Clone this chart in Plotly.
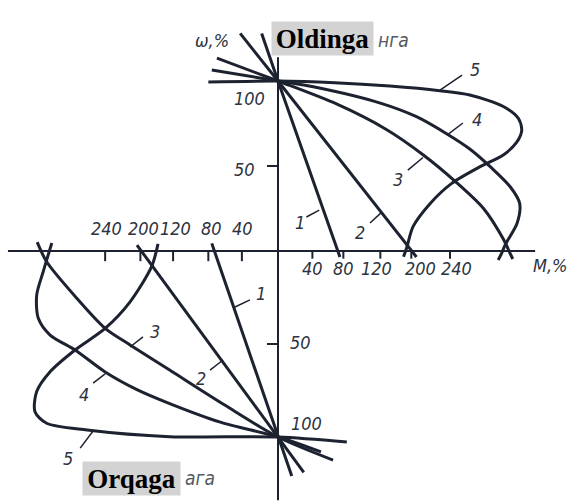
import plotly.graph_objects as go

# Mechanical characteristics: torque M, % against speed omega, %
# Forward run (upper quadrant)
fwd_1_M = [-19, 0, 72]
fwd_1_w = [128, 100, -3.5]
fwd_2_M = [-44, 0, 161]
fwd_2_w = [128, 100, -3.5]
fwd_3_M = [-71, 0, 68, 126, 169, 206, 239, 262, 270, 273]
fwd_3_w = [113.5, 100, 86.5, 71.5, 56.5, 41, 25, 7, -1.5, -4.7]
fwd_4_M = [-77, 0, 41, 119, 161, 196, 223, 248, 270, 281, 278, 264, 260, 256]
fwd_4_w = [106.5, 100, 96.6, 87, 79, 69, 60, 49, 37.8, 28, 16.3, 3.5, -1.4, -5.3]
fwd_5_M = [-81, 0, 66, 130, 188, 223, 262, 279.5, 283.4, 277.6, 262, 235, 202, 177, 157, 150, 146]
fwd_5_w = [99.4, 100, 99, 97, 94.3, 91.8, 85, 78, 71, 64, 56.5, 49.6, 39.8, 28, 14.3, 2.5, -3.4]

# Reverse run (lower quadrant)
rev_1_M = [-77, 0, 16]
rev_1_w = [4.1, -100, -121]
rev_2_M = [-164, 0, 30]
rev_2_w = [3.2, -100, -119]
rev_3_M = [-280, -269, -234, -201, -172, -126, -62, 0, 64]
rev_3_w = [4.8, -5.8, -25.4, -41.6, -50.5, -64, -82.8, -100, -112.4]
rev_4_M = [-263, -269, -273, -280.6, -278.7, -265, -236, -201, -164, -126, -67, 0, 50]
rev_4_w = [4.3, -4.8, -11.1, -23.7, -36.2, -45.2, -53.2, -65, -74.5, -82, -92, -100, -108]
rev_5_M = [-139.5, -147, -172, -201, -236, -265, -280.6, -282.6, -269, -222, -126, 0, 80]
rev_5_w = [3.8, -8.4, -27.3, -41.6, -53.2, -64.9, -75.6, -86.4, -92.6, -96.2, -99.8, -100, -102.7]

curve_names = ["1", "2", "3", "4", "5"]
tick_text = ["40", "80", "120", "200", "240"]

INK = "#1d2230"
TXT = "#2e3240"
NUM_FONT = dict(family="DejaVu Sans Condensed", size=18, color=TXT)

fig = go.Figure()

forward = [(fwd_1_M, fwd_1_w, "linear"), (fwd_2_M, fwd_2_w, "linear"),
           (fwd_3_M, fwd_3_w, "spline"), (fwd_4_M, fwd_4_w, "spline"),
           (fwd_5_M, fwd_5_w, "spline")]
reverse = [(rev_1_M, rev_1_w, "linear"), (rev_2_M, rev_2_w, "linear"),
           (rev_3_M, rev_3_w, "spline"), (rev_4_M, rev_4_w, "spline"),
           (rev_5_M, rev_5_w, "spline")]

for (m, w, shape), name in zip(forward, curve_names):
    fig.add_trace(go.Scatter(x=m, y=w, mode="lines", name=name, yaxis="y",
                             line=dict(color=INK, width=3, shape=shape, smoothing=0.8)))
for (m, w, shape), name in zip(reverse, curve_names):
    fig.add_trace(go.Scatter(x=m, y=w, mode="lines", name=name, yaxis="y2",
                             line=dict(color=INK, width=3, shape=shape, smoothing=0.8)))

shapes = []
# coordinate axes
shapes.append(dict(type="line", xref="x", yref="y", x0=-314, x1=299, y0=0, y1=0,
                   line=dict(color=INK, width=2)))
shapes.append(dict(type="line", xref="x", yref="y", x0=0, x1=0, y0=0, y1=114,
                   line=dict(color=INK, width=2)))
shapes.append(dict(type="line", xref="x", yref="y2", x0=0, x1=0, y0=0, y1=-134,
                   line=dict(color=INK, width=2)))
# torque ticks
for m in [40, 76, 119, 155, 200]:
    shapes.append(dict(type="line", xref="x", yref="y", x0=m, x1=m, y0=0, y1=-4.5,
                       line=dict(color=INK, width=2)))
for m in [-42, -81, -122, -160, -201]:
    shapes.append(dict(type="line", xref="x", yref="y", x0=m, x1=m, y0=0, y1=-6,
                       line=dict(color=INK, width=2)))
# speed ticks
shapes.append(dict(type="line", xref="x", yref="y", x0=-12.8, x1=0, y0=50, y1=50,
                   line=dict(color=INK, width=2)))
shapes.append(dict(type="line", xref="x", yref="y2", x0=-12.8, x1=0, y0=-50, y1=-50,
                   line=dict(color=INK, width=2)))

# leader lines for curve numbers
top_leaders = [((33, 20), (48, 24)), ((107, 16.5), (121, 23)), ((151, 47.6), (168.6, 55)),
               ((215, 75.3), (196.5, 68.2)), ((214, 103.5), (188.4, 94.7))]
bot_leaders = [((-32.6, -26.3), (-50, -30.1)), ((-79, -64), (-64, -58.6)),
               ((-157, -46.2), (-172, -51.6)), ((-215, -71), (-201, -66.1)),
               ((-230, -106), (-215, -96.8))]
for (a, b) in top_leaders:
    shapes.append(dict(type="line", xref="x", yref="y", x0=a[0], y0=a[1], x1=b[0], y1=b[1],
                       line=dict(color=INK, width=1.5)))
for (a, b) in bot_leaders:
    shapes.append(dict(type="line", xref="x", yref="y2", x0=a[0], y0=a[1], x1=b[0], y1=b[1],
                       line=dict(color=INK, width=1.5)))

ann = []


def label(x, y, text, yref="y", font=NUM_FONT):
    ann.append(dict(x=x, y=y, xref="x", yref=yref, text="<i>" + text + "</i>",
                    showarrow=False, font=font, xanchor="center", yanchor="middle"))


# torque tick labels
for m, t in zip([40, 76, 115, 166, 208], tick_text):
    label(m, -10, t)
for m, t in zip([-41, -77, -119, -156, -200], tick_text):
    label(m, 13.5, t)
# speed tick labels
label(-38.4, 48, "50")
label(-33.7, 90, "100")
label(25.6, -49, "50", "y2")
label(32.6, -93, "100", "y2")
# axis titles
label(-76.7, 124, "ω,%")
label(317, -8.8, "M,%")
# curve numbers
for (x, y), t in zip([(25, 17), (95, 11), (140, 42), (231, 77.6), (229, 106.5)], curve_names):
    label(x, y, t)
for (x, y), t in zip([(-20, -22.6), (-89.5, -68.8), (-143, -43.5), (-226, -77.4), (-244, -111.8)],
                     curve_names):
    label(x, y, t, "y2")

# direction captions
ann.append(dict(x=0.5513, y=0.9235, xref="paper", yref="paper", text="<b>Oldinga</b>",
                showarrow=False, width=101, height=33, borderpad=0, bgcolor="#d3d3d3",
                font=dict(family="Liberation Serif", size=27, color="black"),
                xanchor="center", yanchor="middle"))
ann.append(dict(x=0.6718, y=0.9205, xref="paper", yref="paper", text="<i>нга</i>",
                showarrow=False, font=dict(family="DejaVu Sans Condensed", size=19, color="#55595f"),
                xanchor="center", yanchor="middle"))
ann.append(dict(x=0.2248, y=0.0487, xref="paper", yref="paper", text="<b>Orqaga</b>",
                showarrow=False, width=97, height=33, borderpad=0, bgcolor="#d3d3d3",
                font=dict(family="Liberation Serif", size=27, color="black"),
                xanchor="center", yanchor="middle"))
ann.append(dict(x=0.3419, y=0.0497, xref="paper", yref="paper", text="<i>ага</i>",
                showarrow=False, font=dict(family="DejaVu Sans Condensed", size=19, color="#55595f"),
                xanchor="center", yanchor="middle"))

fig.update_layout(
    width=585, height=503,
    margin=dict(l=0, r=0, t=0, b=0),
    paper_bgcolor="white", plot_bgcolor="white",
    showlegend=False,
    xaxis=dict(range=[-323.26, 356.98], visible=False, fixedrange=True),
    yaxis=dict(range=[-148.24, 147.65], visible=False, fixedrange=True),
    yaxis2=dict(range=[-135.48, 134.95], visible=False, overlaying="y", fixedrange=True),
    shapes=shapes,
    annotations=ann,
)

fig.write_html("out.html")
